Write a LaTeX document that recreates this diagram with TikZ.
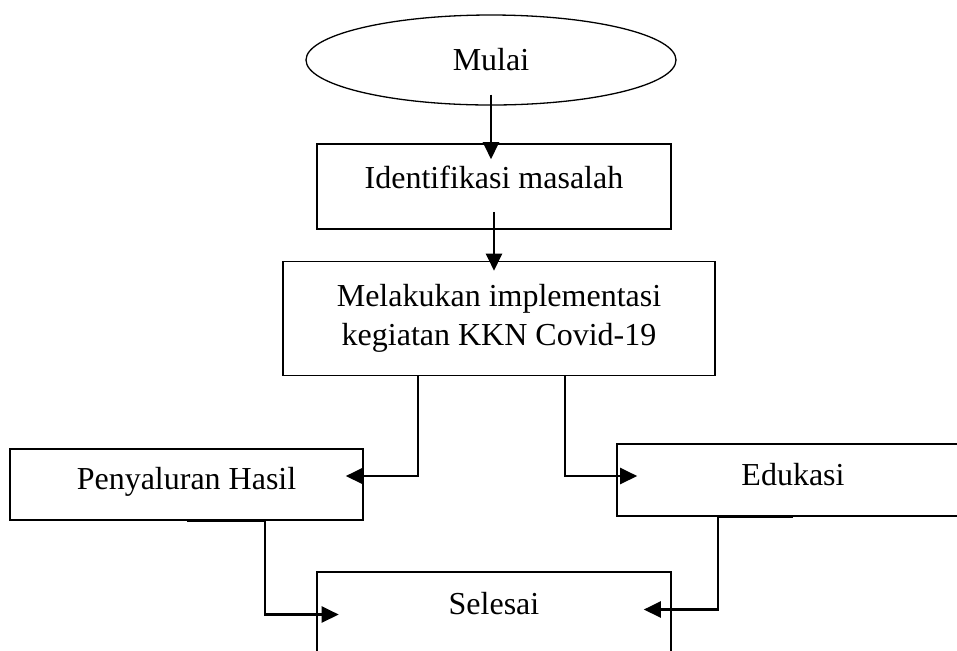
\documentclass[tikz,border=0pt]{standalone}
\usepackage{fontspec}
\setmainfont{Liberation Serif}
\usepackage{tikz}
\usetikzlibrary{shapes.geometric}
\usetikzlibrary{arrows.meta}

\begin{document}
\begin{tikzpicture}[x = 0.5pt, y = -0.5pt,
                    every node/.style = {font = \fontsize{16}{19.5}\selectfont},
                    startend/.style = {draw, ellipse, line width = 0.65pt, inner sep = 0pt},
                    box/.style = {draw, rectangle, line width = 0.8pt},
                    conn/.style = {line width = 1.1pt, -{Triangle[length = 8.5pt, width = 8pt]}}]
                    \clip (0, 0) rectangle (957, 650);

                    \node[startend, minimum width = 185pt, minimum height = 45pt] (mulai) at (491, 60) {Mulai};
                    \node[box, minimum width = 177pt, minimum height = 42.5pt, text depth = 9.5pt] (ident) at (494, 186.5) {Identifikasi masalah};
                    \node[box, minimum width = 216pt, minimum height = 57pt, align = center] (impl) at (499, 318.5)
                        {Melakukan implementasi\\kegiatan KKN Covid-19};
                    \node[box, minimum width = 176.5pt, minimum height = 35.5pt, text depth = 6.5pt] (salur) at (186.5, 484.5) {Penyaluran Hasil};
                    \node[box, minimum width = 176pt, minimum height = 36pt, text depth = 6pt] (edukasi) at (793, 480) {Edukasi};
                    \node[box, minimum width = 177pt, minimum height = 42.5pt, text depth = 11.5pt] (selesai) at (494, 614.5) {Selesai};

                    \draw[conn] ([yshift = 5.5pt]mulai.south) -- ([yshift = -8pt]mulai.south |- ident.north);
                    \draw[conn] ([yshift = 9pt]ident.south) -- ([yshift = -5pt]ident.south |- impl.north);
                    \draw[conn] ([xshift = -40.5pt]impl.south) |- ([xshift = -9pt, yshift = 4.25pt]salur.east);
                    \draw[conn] ([xshift = 33pt]impl.south) |- ([xshift = 10.5pt, yshift = 2pt]edukasi.west);
                    \draw[conn] (salur.south) -- ++(39.25pt, 0pt) |- ([xshift = 11.25pt]selesai.west);
                    \draw[conn] (edukasi.south) -- ++(-37.5pt, 0pt) |- ([xshift = -14pt, yshift = 2.5pt]selesai.east);
                \end{tikzpicture}
\end{document}
